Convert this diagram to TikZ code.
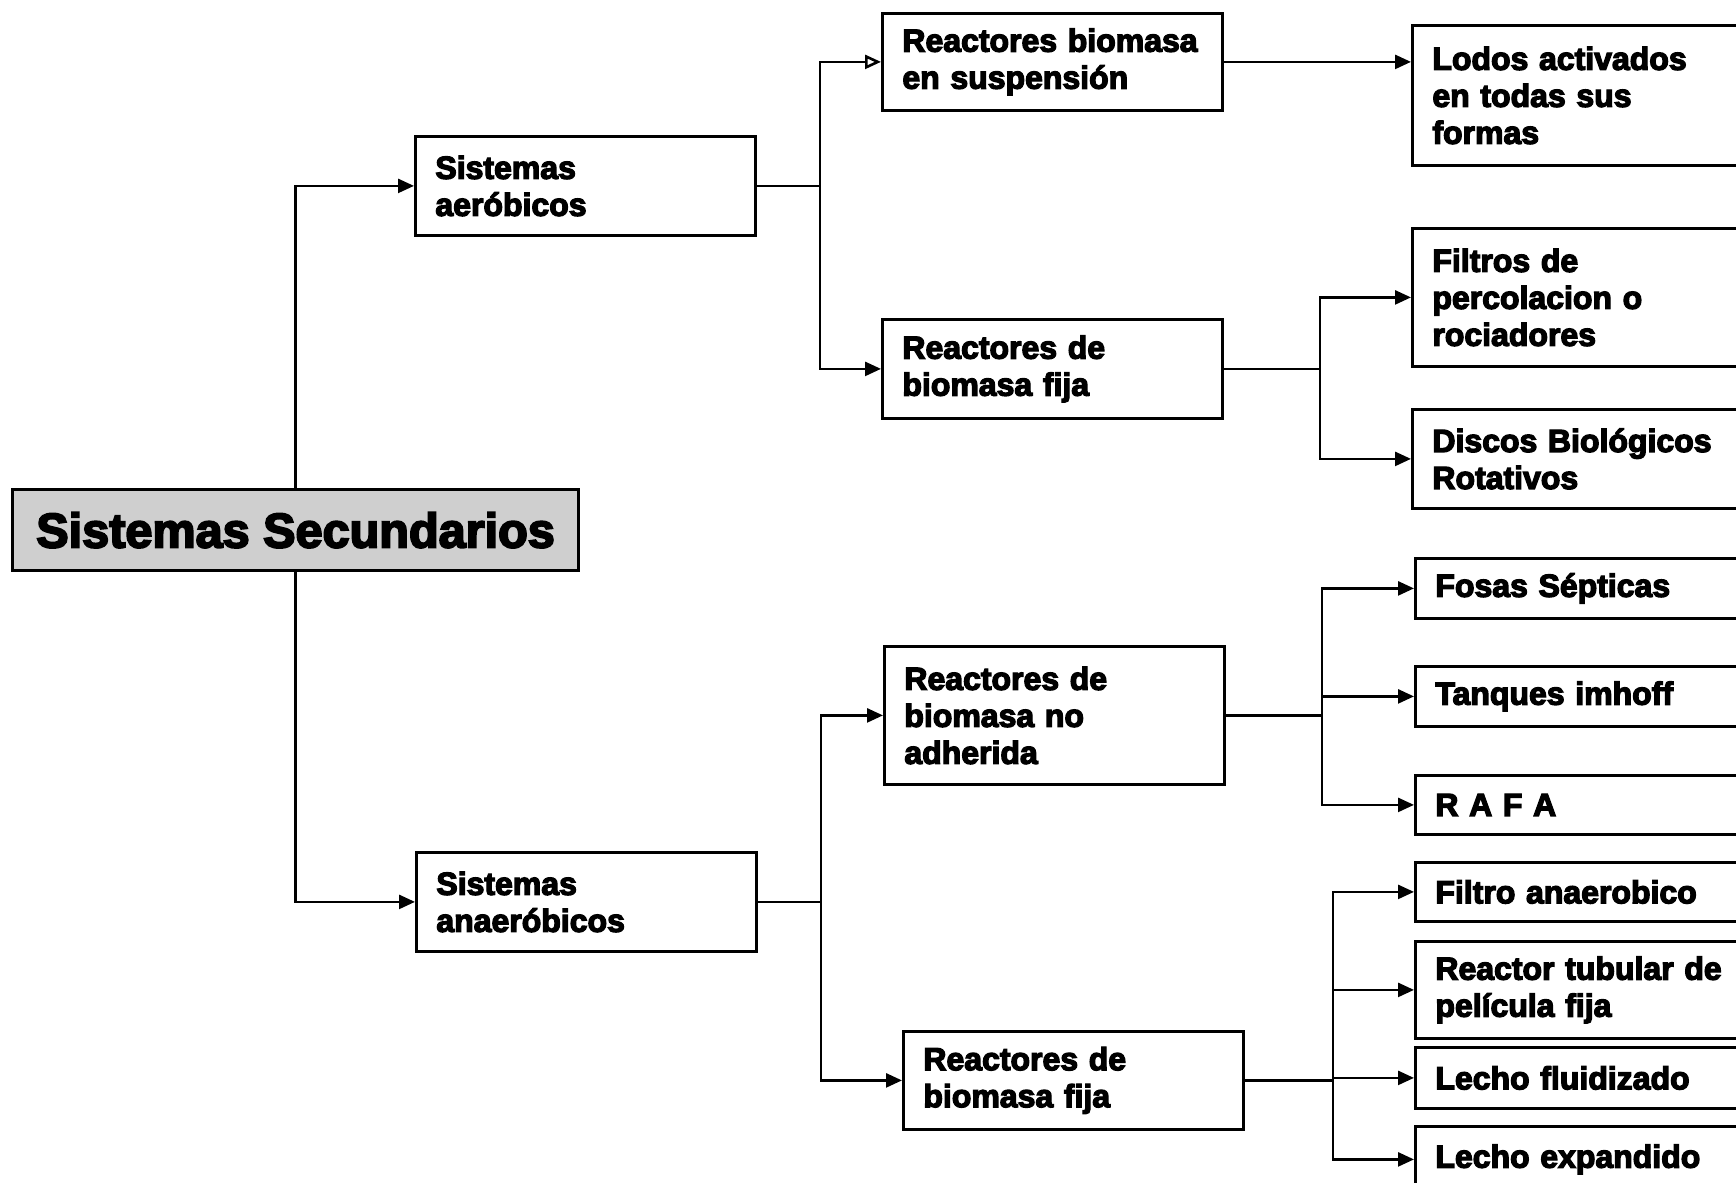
\documentclass[tikz,border=0pt]{standalone}
\usepackage{fontspec}
\setmainfont{Liberation Sans}[BoldFeatures={FakeBold=4}]
\usetikzlibrary{arrows.meta}
\begin{document}
\begin{tikzpicture}[x=0.5pt,y=-0.5pt,
  every node/.style={font=\bfseries\fontsize{16pt}{18.5pt}\selectfont},
  box/.style={draw, line width=1.4pt, anchor=north west, align=left,
              inner xsep=10pt, inner ysep=0pt},
  mid/.style={box, text width=150pt, minimum width=170pt},
  leaf/.style={box, text width=154.5pt, minimum width=174.5pt},
  rootbox/.style={draw, line width=1.6pt, fill=gray!38, anchor=north west,
              minimum width=283pt, minimum height=40.5pt, inner sep=0pt,
              font=\bfseries\fontsize{24.3pt}{28pt}\selectfont},
  link/.style={line width=1.3pt},
  arr/.style={link, -{Triangle[length=8pt,width=7pt]}},
  openarr/.style={link, -{Triangle[open,length=8pt,width=7pt]}},
]
\clip (0,0) rectangle (1736,1183);

% root
\node[rootbox] (root) at (11,488) {Sistemas Secundarios};

% second and third levels
\node[mid, minimum height=49.5pt] (aer)   at (414,135)  {Sistemas\\aeróbicos};
\node[mid, minimum height=49.5pt] (ana)   at (415,851)  {Sistemas\\anaeróbicos};
\node[mid, minimum height=48.5pt] (susp)  at (881,12)   {Reactores biomasa\\en suspensión};
\node[mid, minimum height=49.5pt] (fija1) at (881,318)  {Reactores de\\biomasa fija};
\node[mid, minimum height=69pt]   (noadh) at (883,645)  {Reactores de\\biomasa no\\adherida};
\node[mid, minimum height=49pt]   (fija2) at (902,1030) {Reactores de\\biomasa fija};

% leaves
\node[leaf, minimum height=70pt]   (lodos)    at (1411,24)   {Lodos activados\\en todas sus\\formas};
\node[leaf, minimum height=69pt]   (filtros)  at (1411,227)  {Filtros de\\percolacion o\\rociadores};
\node[leaf, minimum height=49.5pt] (discos)   at (1411,408)  {Discos Biológicos\\Rotativos};
\node[leaf, minimum height=30pt]   (fosas)    at (1414,557)  {Fosas Sépticas};
\node[leaf, minimum height=30pt]   (tanques)  at (1414,665)  {Tanques imhoff};
\node[leaf, minimum height=29.5pt] (rafa)     at (1414,774)  {R A F A};
\node[leaf, minimum height=29.5pt] (filtroan) at (1414,861)  {Filtro anaerobico};
\node[leaf, minimum height=48.5pt] (tubular)  at (1414,940)  {Reactor tubular de\\película fija};
\node[leaf, minimum height=30.5pt] (fluid)    at (1414,1046) {Lecho fluidizado};
\node[leaf, minimum height=33pt]   (expand)   at (1414,1125) {Lecho expandido};

% branch points
\coordinate (j1) at ([xshift=31.5pt]aer.east);
\coordinate (j2) at ([xshift=48pt]fija1.east);
\coordinate (j3) at ([xshift=31.5pt]ana.east);
\coordinate (j4) at ([xshift=48pt]noadh.east);
\coordinate (j5) at ([xshift=44pt]fija2.east);

% connectors
\draw[arr] (root.north) |- (aer.west);
\draw[arr] (root.south) |- (ana.west);

\draw[link] (aer.east) -- (j1);
\draw[openarr] (j1) |- (susp.west);
\draw[arr] (j1) |- (fija1.west);
\draw[arr] (susp.east) -- (susp.east -| lodos.west);

\draw[link] (fija1.east) -- (j2);
\draw[arr] (j2) |- (filtros.west);
\draw[arr] (j2) |- (discos.west);

\draw[link] (ana.east) -- (j3);
\draw[arr] (j3) |- (noadh.west);
\draw[arr] (j3) |- (fija2.west);

\draw[link] (noadh.east) -- (j4);
\draw[arr] (j4) |- (fosas.west);
\draw[arr] (j4) |- (tanques.west);
\draw[arr] (j4) |- (rafa.west);

\draw[link] (fija2.east) -- (j5);
\draw[arr] (j5) |- (filtroan.west);
\draw[arr] (j5) |- (tubular.west);
\draw[arr] (j5) |- (fluid.west);
\draw[arr] (j5) |- (expand.west);
\end{tikzpicture}
\end{document}
